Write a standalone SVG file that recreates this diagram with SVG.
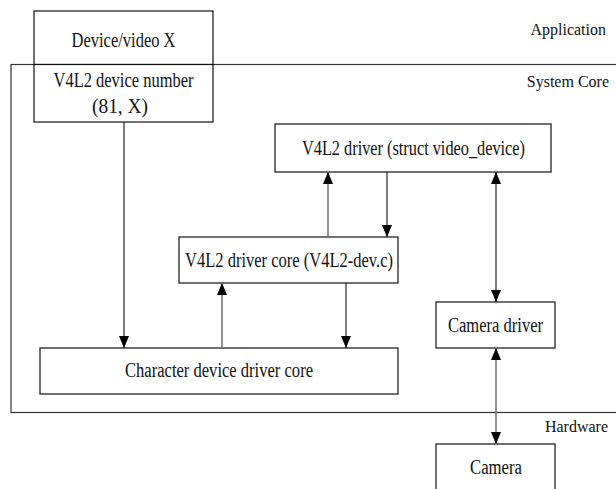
<svg xmlns="http://www.w3.org/2000/svg" width="616" height="489" viewBox="0 0 616 489">
  <style>
    .box { fill: #fff; stroke: #111; stroke-width: 1.2; }
    .frame { fill: none; stroke: #333; stroke-width: 1.2; }
    .lbl { font-family: "Liberation Serif", "Times New Roman", serif; font-size: 20px; fill: #111; }
    .layer { font-family: "Liberation Serif", "Times New Roman", serif; font-size: 16px; fill: #111; text-anchor: end; }
    .mid { text-anchor: middle; }
    .dn { stroke: #111; stroke-width: 1.1; fill: none; }
    .up { stroke: #777; stroke-width: 1.6; fill: none; }
  </style>
  <defs>
    <marker id="head" markerUnits="userSpaceOnUse" markerWidth="12" markerHeight="12" refX="12" refY="5" orient="auto-start-reverse" viewBox="0 0 12 10">
      <path d="M0,0 L12,5 L0,10 Z" fill="#000"/>
    </marker>
  </defs>

  <rect width="616" height="489" fill="#fff"/>

  <!-- layer frame: system core region, open to the right -->
  <rect class="frame" x="11" y="64.5" width="630" height="348"/>

  <!-- layer labels -->
  <text class="layer" x="606" y="35">Application</text>
  <text class="layer" x="609" y="87">System Core</text>
  <text class="layer" x="608" y="432">Hardware</text>

  <g id="device-video">
    <rect class="box" x="34" y="11" width="179" height="53.5"/>
    <text class="lbl mid" x="123.5" y="47" textLength="104" lengthAdjust="spacingAndGlyphs">Device/video X</text>
  </g>

  <g id="device-number">
    <rect class="box" x="34" y="64.5" width="179" height="57.5"/>
    <text class="lbl mid" x="123.5" y="87" textLength="140" lengthAdjust="spacingAndGlyphs">V4L2 device number</text>
    <text class="lbl mid" x="120" y="113" textLength="56" lengthAdjust="spacingAndGlyphs">(81, X)</text>
  </g>

  <g id="v4l2-driver">
    <rect class="box" x="275" y="124" width="276" height="48"/>
    <text class="lbl mid" x="413.5" y="155" textLength="223" lengthAdjust="spacingAndGlyphs">V4L2 driver (struct video_device)</text>
  </g>

  <g id="v4l2-core">
    <rect class="box" x="179" y="237" width="219" height="46"/>
    <text class="lbl mid" x="289" y="267" textLength="208" lengthAdjust="spacingAndGlyphs">V4L2 driver core (V4L2-dev.c)</text>
  </g>

  <g id="char-core">
    <rect class="box" x="40" y="348" width="358" height="46"/>
    <text class="lbl mid" x="219" y="377" textLength="188" lengthAdjust="spacingAndGlyphs">Character device driver core</text>
  </g>

  <g id="camera-driver">
    <rect class="box" x="436" y="302" width="119" height="46"/>
    <text class="lbl mid" x="495.5" y="332" textLength="95" lengthAdjust="spacingAndGlyphs">Camera driver</text>
  </g>

  <g id="camera">
    <rect class="box" x="436" y="444" width="119" height="60"/>
    <text class="lbl mid" x="496" y="474" textLength="52" lengthAdjust="spacingAndGlyphs">Camera</text>
  </g>

  <g id="connectors">
    <!-- device number -> character core -->
    <line class="dn" x1="124" y1="122" x2="124" y2="348" marker-end="url(#head)"/>
    <!-- core <-> driver -->
    <line class="up" x1="328" y1="237" x2="328" y2="172" marker-end="url(#head)"/>
    <line class="dn" x1="387" y1="172" x2="387" y2="237" marker-end="url(#head)"/>
    <!-- character core <-> V4L2 core -->
    <line class="up" x1="222" y1="348" x2="222" y2="283" marker-end="url(#head)"/>
    <line class="dn" x1="346" y1="283" x2="346" y2="348" marker-end="url(#head)"/>
    <!-- driver <-> camera driver -->
    <line class="dn" x1="496" y1="172" x2="496" y2="302" marker-start="url(#head)" marker-end="url(#head)"/>
    <!-- camera driver <-> camera -->
    <line class="up" x1="496" y1="348" x2="496" y2="444" marker-start="url(#head)" marker-end="url(#head)"/>
  </g>
</svg>
